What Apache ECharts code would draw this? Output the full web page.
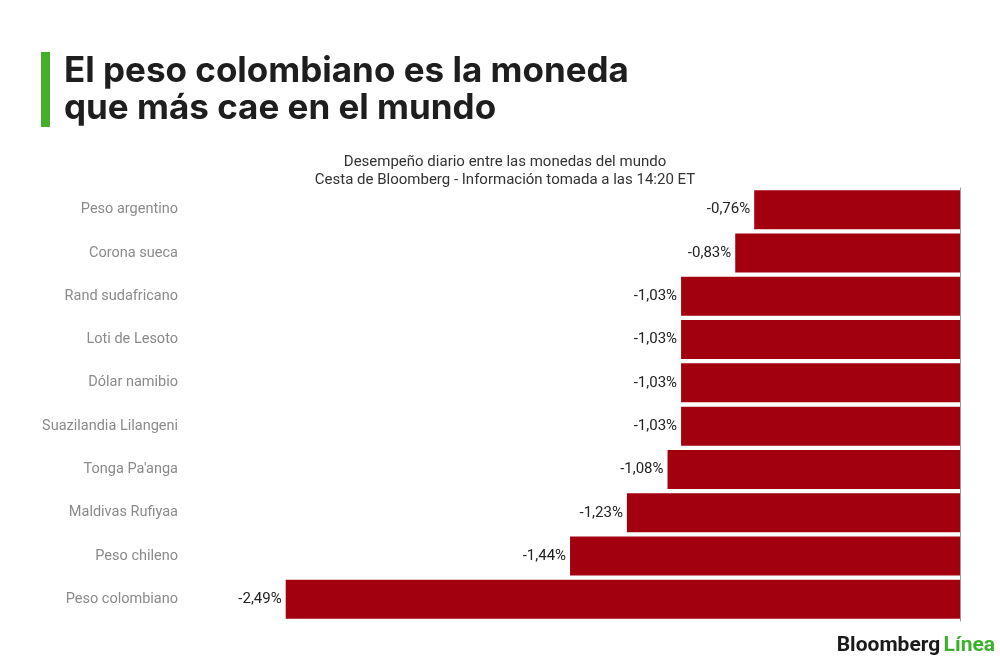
<!DOCTYPE html>
<html><head><meta charset="utf-8">
<script src="https://cdn.jsdelivr.net/npm/echarts@6/dist/echarts.min.js"></script>
<style>html,body{margin:0;padding:0;background:#fff}#c{width:1000px;height:660px}</style>
</head><body><div id="c"></div>
<script>
const categories = ["Peso argentino","Corona sueca","Rand sudafricano","Loti de Lesoto","Dólar namibio","Suazilandia Lilangeni","Tonga Pa'anga","Maldivas Rufiyaa","Peso chileno","Peso colombiano"];
const values = [-0.76,-0.83,-1.03,-1.03,-1.03,-1.03,-1.08,-1.23,-1.44,-2.49];
const titleLines = ["El peso colombiano es la moneda","que más cae en el mundo"];
const subtitleLines = ["Desempeño diario entre las monedas del mundo","Cesta de Bloomberg - Información tomada a las 14:20 ET"];

const chart = echarts.init(document.getElementById('c'));
chart.setOption({
  backgroundColor:'#fff',
  animation:false,
  graphic:[
    {type:'rect',shape:{x:41,y:52,width:9,height:75},style:{fill:'#44b02a'}},
    {type:'text',left:64,top:53,style:{text:titleLines.join('\n'),font:'bold 35px Inter, Roboto, sans-serif',fill:'#1e1e1e',lineHeight:37}},
    {type:'text',right:5,top:635,style:{rich:{a:{font:'bold 21px Roboto, sans-serif',fill:'#1a1a1a'},b:{font:'bold 21px Roboto, sans-serif',fill:'#3cb02c'}},text:'{a|Bloomberg} {b|Línea}'}}
  ],
  title:{text:subtitleLines.join('\n'),left:500,top:148,textAlign:'center',textStyle:{fontSize:15,fontWeight:'normal',color:'#333',fontFamily:'Roboto, sans-serif',lineHeight:18}},
  grid:{left:283,right:40,top:188,height:433},
  xAxis:{type:'value',min:-2.5,max:0,show:false},
  yAxis:[
    {type:'category',data:categories,inverse:true,axisLine:{show:false},axisTick:{show:false},
     axisLabel:{margin:105,color:'#8a8a8a',fontSize:14.5,fontFamily:'Roboto, sans-serif'}},
    {type:'category',data:categories,inverse:true,position:'right',axisLine:{show:true,lineStyle:{color:'#9a9a9a',width:1}},axisTick:{show:false},axisLabel:{show:false}}
  ],
  series:[{type:'bar',data:values,barCategoryGap:'10%',itemStyle:{color:'#a3000f'},
    label:{show:true,position:'left',distance:4,color:'#222',fontSize:15,fontFamily:'Roboto, sans-serif',
      formatter:p=>p.value.toFixed(2).replace('.',',')+'%'}}]
});
</script></body></html>
